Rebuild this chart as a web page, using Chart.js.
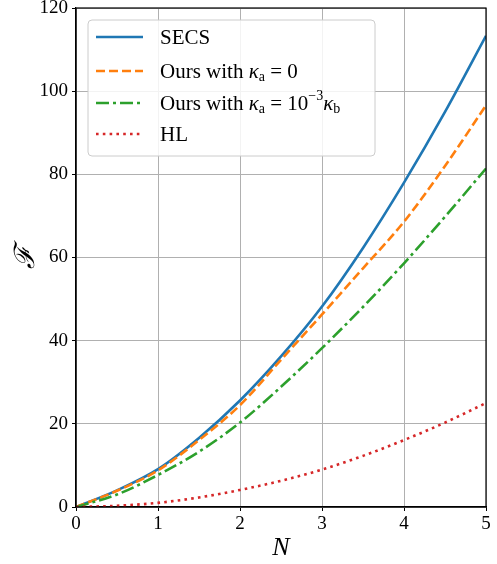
<!DOCTYPE html>
<html>
<head>
<meta charset="utf-8">
<script src="https://cdn.jsdelivr.net/npm/chart.js@4"></script>
<style>
  html, body { margin: 0; padding: 0; background: #fff; }
  #wrap { width: 497px; height: 564px; }
</style>
</head>
<body>
<div id="wrap"><canvas id="chart" width="497" height="564"></canvas></div>
<script>
// values
const nValues = [0, 0.5, 1, 1.5, 2, 2.5, 3, 3.5, 4, 4.5, 5];
const secs = [0, 4.0, 9.1, 16.6, 25.6, 36.2, 48.2, 62.3, 78.0, 95.0, 113.3];
const oursK0 = [0, 3.9, 8.8, 16.1, 24.5, 35.4, 46.3, 57.4, 68.6, 82.0, 96.6];
const oursK3 = [0, 3.0, 7.7, 13.3, 20.3, 28.9, 38.2, 48.1, 58.6, 69.8, 81.4];
const hl = [0, 0.3, 1.0, 2.3, 4.1, 6.3, 9.0, 12.3, 16.1, 20.3, 25.0];
const xTicks = [0, 1, 2, 3, 4, 5];
const yTicks = [0, 20, 40, 60, 80, 100, 120];

const SERIF = '"Liberation Serif", "DejaVu Serif", serif';

// legend entries: pieces of text with sub/superscripts
const legendRows = [
  [{ t: "SECS" }],
  [{ t: "Ours with " }, { t: "κ", s: "i" }, { t: "a", s: "sub" }, { t: " = 0" }],
  [{ t: "Ours with " }, { t: "κ", s: "i" }, { t: "a", s: "sub" }, { t: " = 10" },
   { t: "−3", s: "sup" }, { t: "κ", s: "i" }, { t: "b", s: "sub" }],
  [{ t: "HL" }]
];

function puntos(ys) {
  const out = [];
  for (let i = 0; i < nValues.length; i++) {
    out.push({ x: nValues[i], y: ys[i] });
  }
  return out;
}

function linea(label, ys, color, dash, order) {
  return {
    label: label,
    data: puntos(ys),
    borderColor: color,
    backgroundColor: color,
    borderWidth: 2.6,
    borderDash: dash,
    borderCapStyle: "butt",
    pointRadius: 0,
    cubicInterpolationMode: "monotone",
    fill: false,
    order: order
  };
}

function dibujarTexto(ctx, partes, x, y) {
  let cx = x;
  for (let i = 0; i < partes.length; i++) {
    const p = partes[i];
    let dy = 0;
    if (p.s === "sub") {
      ctx.font = "14px " + SERIF;
      dy = 5;
    } else if (p.s === "sup") {
      ctx.font = "14px " + SERIF;
      dy = -8;
    } else if (p.s === "i") {
      ctx.font = "italic 21px " + SERIF;
    } else {
      ctx.font = "21px " + SERIF;
    }
    ctx.fillText(p.t, cx, y + dy);
    cx += ctx.measureText(p.t).width;
  }
}

const marcoYLeyenda = {
  id: "marcoYLeyenda",
  afterDraw(chart) {
    const ctx = chart.ctx;
    const a = chart.chartArea;

    // full black box round the plot
    ctx.save();
    ctx.strokeStyle = "#000";
    ctx.lineWidth = 1.2;
    ctx.strokeRect(a.left, a.top, a.right - a.left, a.bottom - a.top);
    ctx.restore();

    // legend
    const bx = 88, by = 20, bw = 287, bh = 136;
    ctx.save();
    ctx.beginPath();
    ctx.roundRect(bx, by, bw, bh, 4);
    ctx.fillStyle = "rgba(255,255,255,0.85)";
    ctx.fill();
    ctx.strokeStyle = "#cccccc";
    ctx.lineWidth = 1;
    ctx.stroke();

    const filas = [37, 71, 103, 134];
    const ds = chart.data.datasets;
    for (let i = 0; i < ds.length; i++) {
      const y = filas[i];
      ctx.beginPath();
      ctx.setLineDash(ds[i].borderDash || []);
      ctx.strokeStyle = ds[i].borderColor;
      ctx.lineWidth = ds[i].borderWidth;
      ctx.lineCap = "butt";
      ctx.moveTo(96, y);
      ctx.lineTo(143, y);
      ctx.stroke();
      ctx.setLineDash([]);

      ctx.fillStyle = "#000";
      ctx.textBaseline = "middle";
      ctx.textAlign = "left";
      dibujarTexto(ctx, legendRows[i], 160, y + 1);
    }
    ctx.restore();
  }
};

const ctx = document.getElementById("chart").getContext("2d");

new Chart(ctx, {
  type: "line",
  data: {
    datasets: [
      linea("SECS", secs, "#1f77b4", [], 4),
      linea("Ours with κa = 0", oursK0, "#ff7f0e", [9, 4], 3),
      linea("Ours with κa = 10−3κb", oursK3, "#2ca02c", [13, 4, 3, 4], 2),
      linea("HL", hl, "#d62728", [2.6, 4.2], 1)
    ]
  },
  options: {
    responsive: false,
    animation: false,
    layout: { padding: { left: 0, right: 11, top: 8, bottom: 0 } },
    plugins: {
      legend: { display: false },
      tooltip: { enabled: false }
    },
    scales: {
      x: {
        type: "linear",
        min: 0,
        max: 5,
        afterBuildTicks: function (s) {
          s.ticks = xTicks.map(function (v) { return { value: v }; });
        },
        afterFit: function (s) {
          s.height = 57;
          s.paddingLeft = 0;
          s.paddingRight = 0;
        },
        grid: { color: "#b0b0b0", lineWidth: 1, tickColor: "#000", tickLength: 4 },
        border: { color: "#000", width: 1.2 },
        ticks: { color: "#000", font: { family: SERIF, size: 19 }, padding: 2, maxRotation: 0 },
        title: {
          display: true,
          text: "N",
          color: "#000",
          font: { family: SERIF, size: 26, style: "italic" },
          padding: { top: 0, bottom: 0 }
        }
      },
      y: {
        type: "linear",
        min: 0,
        max: 120,
        afterBuildTicks: function (s) {
          s.ticks = yTicks.map(function (v) { return { value: v }; });
        },
        afterFit: function (s) {
          s.width = 76;
          s.paddingTop = 0;
          s.paddingBottom = 0;
        },
        grid: { color: "#b0b0b0", lineWidth: 1, tickColor: "#000", tickLength: 4 },
        border: { color: "#000", width: 1.2 },
        ticks: { color: "#000", font: { family: SERIF, size: 19 }, padding: 4 },
        title: {
          display: true,
          text: "ℱ",
          color: "#000",
          font: { family: '"DejaVu Serif", serif', size: 28, style: "italic" },
          padding: { top: 10, bottom: 0 }
        }
      }
    }
  },
  plugins: [marcoYLeyenda]
});
</script>
</body>
</html>
